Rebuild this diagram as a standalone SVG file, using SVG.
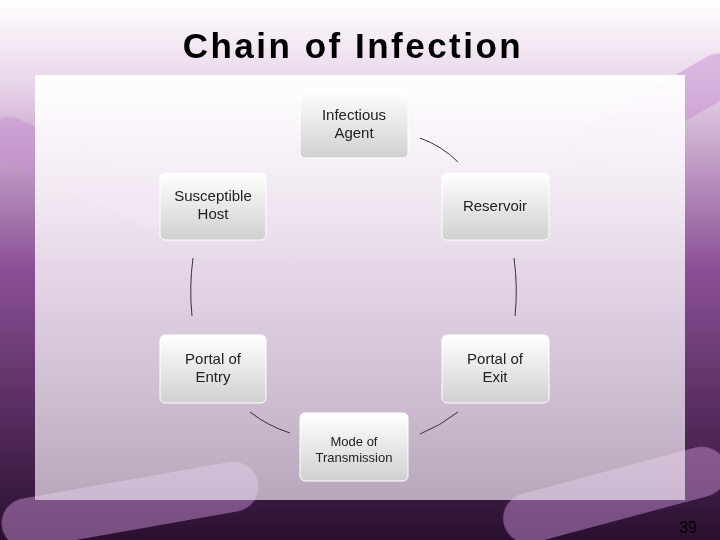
<svg xmlns="http://www.w3.org/2000/svg" width="720" height="540" viewBox="0 0 720 540">
<defs>
<linearGradient id="bg" x1="0" y1="0" x2="0" y2="1">
<stop offset="0" stop-color="#ffffff"/><stop offset="0.15" stop-color="#e9d6ea"/><stop offset="0.5" stop-color="#8a4f95"/><stop offset="1" stop-color="#2a0f30"/>
</linearGradient>
<linearGradient id="panel" x1="0" y1="0" x2="0" y2="1">
<stop offset="0" stop-color="#ffffff" stop-opacity="0.95"/><stop offset="0.6" stop-color="#f4ecf5" stop-opacity="0.8"/><stop offset="1" stop-color="#efe4f1" stop-opacity="0.7"/>
</linearGradient>
<linearGradient id="node" x1="0" y1="0" x2="0" y2="1">
<stop offset="0" stop-color="#ffffff"/><stop offset="1" stop-color="#d0d0d0"/>
</linearGradient>
<style>
.n{fill:url(#node);stroke:#ffffff;stroke-width:1}
.t{font-family:"Liberation Sans",Arial,sans-serif;font-size:15px;fill:#222;text-anchor:middle}
.c{fill:none;stroke:#333;stroke-width:1}
</style>
</defs>
<rect width="720" height="540" fill="url(#bg)"/>
<g fill="#c58fd0" opacity="0.5">
<rect x="-20" y="150" width="200" height="45" rx="22" transform="rotate(25 80 172)"/>
<rect x="560" y="90" width="190" height="45" rx="22" transform="rotate(-30 655 112)"/>
<rect x="0" y="480" width="260" height="50" rx="25" transform="rotate(-10 130 505)"/>
<rect x="500" y="470" width="230" height="50" rx="25" transform="rotate(-15 615 495)"/>
</g>
<rect x="35" y="75" width="650" height="425" fill="url(#panel)"/>
<text x="353" y="58" style="font-family:'Liberation Sans',Arial,sans-serif;font-size:35px;font-weight:bold;letter-spacing:2.5px;fill:#000;text-anchor:middle">Chain of Infection</text>
<g id="connectors">
<path class="c" d="M420,138 Q442,146 458,162"/>
<path class="c" d="M514,258 Q518,287 515,316"/>
<path class="c" d="M458,412 Q440,426 420,434"/>
<path class="c" d="M250,412 Q268,426 290,433"/>
<path class="c" d="M192,316 Q189,287 193,258"/>
</g>
<g id="agent"><rect class="n" x="300" y="90" width="108" height="68" rx="5"/><text class="t" x="354" y="120">Infectious</text><text class="t" x="354" y="138">Agent</text></g>
<g id="reservoir"><rect class="n" x="442" y="173" width="107" height="67" rx="5"/><text class="t" x="495" y="211">Reservoir</text></g>
<g id="exit"><rect class="n" x="442" y="335" width="107" height="68" rx="5"/><text class="t" x="495" y="364">Portal of</text><text class="t" x="495" y="382">Exit</text></g>
<g id="mode"><rect class="n" x="300" y="413" width="108" height="68" rx="5"/><text class="t" x="354" y="446" style="font-size:13px">Mode of</text><text class="t" x="354" y="462" style="font-size:13px">Transmission</text></g>
<g id="entry"><rect class="n" x="160" y="335" width="106" height="68" rx="5"/><text class="t" x="213" y="364">Portal of</text><text class="t" x="213" y="382">Entry</text></g>
<g id="host"><rect class="n" x="160" y="173" width="106" height="67" rx="5"/><text class="t" x="213" y="201">Susceptible</text><text class="t" x="213" y="219">Host</text></g>
<text x="697" y="533" style="font-family:'Liberation Sans',Arial,sans-serif;font-size:16px;fill:#000;text-anchor:end">39</text>
</svg>
